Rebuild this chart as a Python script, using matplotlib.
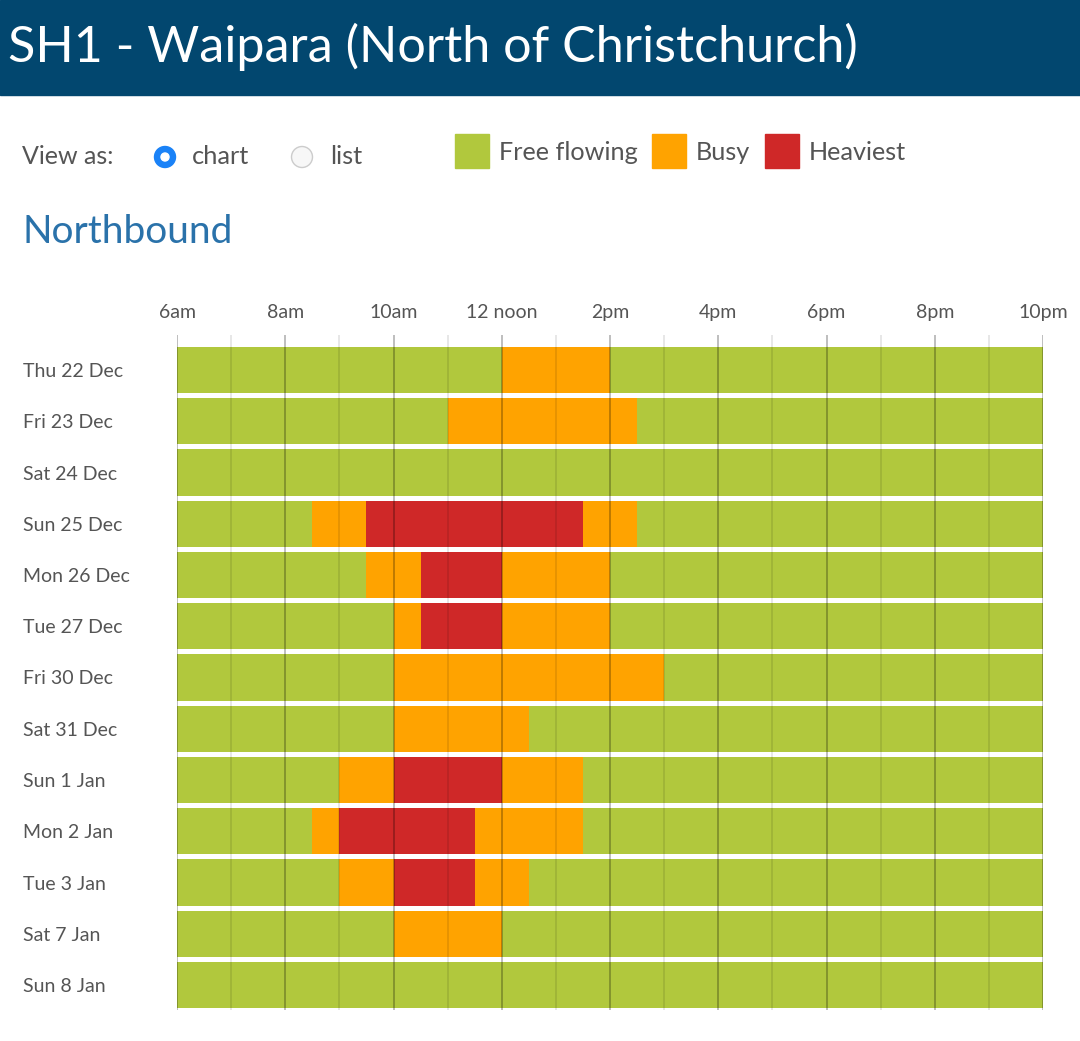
import matplotlib
matplotlib.use("Agg")
import matplotlib.pyplot as plt
from matplotlib.patches import Rectangle, Circle

W, H = 1080, 1041
FONT = ["Lato", "DejaVu Sans"]

DAYS = ["Thu 22 Dec", "Fri 23 Dec", "Sat 24 Dec", "Sun 25 Dec", "Mon 26 Dec",
        "Tue 27 Dec", "Fri 30 Dec", "Sat 31 Dec", "Sun 1 Jan", "Mon 2 Jan",
        "Tue 3 Jan", "Sat 7 Jan", "Sun 8 Jan"]

# busy (orange) periods per day, in hours
BUSY = [
    [(12, 14)],
    [(11, 14.5)],
    [],
    [(8.5, 14.5)],
    [(9.5, 14)],
    [(10, 14)],
    [(10, 15)],
    [(10, 12.5)],
    [(9, 13.5)],
    [(8.5, 13.5)],
    [(9, 12.5)],
    [(10, 12)],
    [],
]
# heaviest (red) periods per day, in hours
HEAVY = [
    [], [], [],
    [(9.5, 13.5)],
    [(10.5, 12)],
    [(10.5, 12)],
    [], [],
    [(10, 12)],
    [(9, 11.5)],
    [(10, 11.5)],
    [], [],
]

DAY_START, DAY_END = 6, 22
TICK_HOURS = [6, 8, 10, 12, 14, 16, 18, 20, 22]
TICK_LABELS = ["6am", "8am", "10am", "12 noon", "2pm", "4pm", "6pm", "8pm", "10pm"]

GREEN = "#b1c83d"
ORANGE = "#ffa300"
RED = "#cf2828"
TEXT = "#555555"

fig = plt.figure(figsize=(W / 100, H / 100), dpi=100)
fig.patch.set_facecolor("white")

# overlay for page furniture in pixel coords
page = fig.add_axes([0, 0, 1, 1])
page.set_xlim(0, W)
page.set_ylim(H, 0)
page.axis("off")
page.add_patch(Rectangle((0, 0), W, 95, color="#02476f", zorder=1))
page.text(8, 47, "SH1 - Waipara (North of Christchurch)", color="white",
          fontsize=36.2, family=FONT, va="center", ha="left")
page.text(22, 157, "View as:", color=TEXT, fontsize=18, family=FONT, va="center")
page.add_patch(Circle((165, 157), 10.5, color="#1a82f7", zorder=2))
page.add_patch(Circle((165, 157), 4, color="white", zorder=3))
page.text(192, 157, "chart", color=TEXT, fontsize=18.3, family=FONT, va="center")
page.add_patch(Circle((302, 157), 10.5, facecolor="#f7f7f7", edgecolor="#cccccc", lw=1, zorder=2))
page.text(330, 157, "list", color=TEXT, fontsize=18.3, family=FONT, va="center")
for x0, col, lab in [(455, GREEN, "Free flowing"), (652, ORANGE, "Busy"), (765, RED, "Heaviest")]:
    page.add_patch(Rectangle((x0, 134), 34, 34, color=col, zorder=2))
    page.text(x0 + 44, 152, lab, color=TEXT, fontsize=18.2, family=FONT, va="center")
page.text(22, 232, "Northbound", color="#2a72aa", fontsize=28, family=FONT, va="center")

# chart axes: x 177..1043 px, y 335..1010 px
left, right, top, bottom = 177, 1043, 335, 1010
ax = fig.add_axes([left / W, 1 - bottom / H, (right - left) / W, (bottom - top) / H])
pitch = 51.25
ax.set_xlim(DAY_START, DAY_END)
ax.set_ylim((bottom - 370) / pitch, -(370 - top) / pitch)
for s in ax.spines.values():
    s.set_visible(False)
ax.set_facecolor("none")

bh = 0.9
for i, day in enumerate(DAYS):
    ax.barh(i, DAY_END - DAY_START, left=DAY_START, height=bh, color=GREEN, zorder=1)
    for a, b in BUSY[i]:
        ax.barh(i, b - a, left=a, height=bh, color=ORANGE, zorder=2)
    for a, b in HEAVY[i]:
        ax.barh(i, b - a, left=a, height=bh, color=RED, zorder=3)

for h in range(DAY_START, DAY_END + 1):
    alpha = 0.28 if h % 2 == 0 else 0.1
    ax.axvline(h, color="black", alpha=alpha, lw=1.3, zorder=4)

ax.set_yticks(range(len(DAYS)))
ax.set_yticklabels(DAYS, family=FONT, fontsize=14, color=TEXT, ha="left")
ax.tick_params(axis="y", length=0, pad=(left - 23) * 0.72)
ax.set_xticks(TICK_HOURS)
ax.set_xticklabels(TICK_LABELS, family=FONT, fontsize=14, color=TEXT)
ax.xaxis.tick_top()
ax.tick_params(axis="x", length=0, pad=10)

fig.savefig("out.png", dpi=100, facecolor="white")
